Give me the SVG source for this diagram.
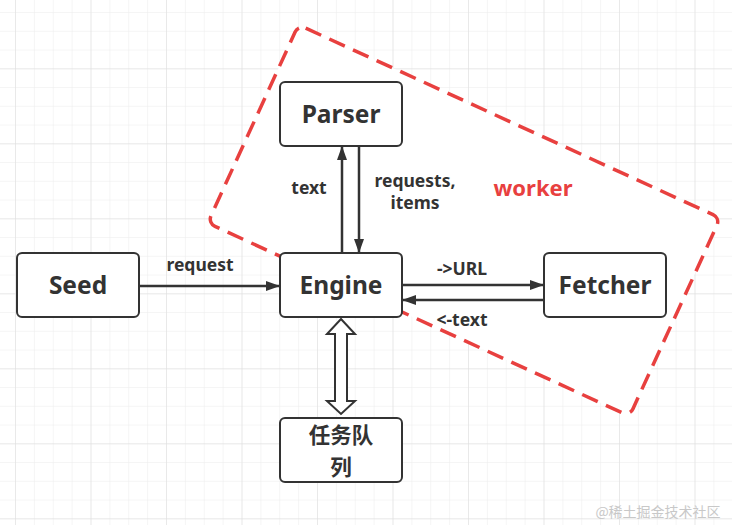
<svg xmlns="http://www.w3.org/2000/svg" width="732" height="525" viewBox="0 0 732 525">
<defs>
<pattern id="minor" patternUnits="userSpaceOnUse" x="15" y="-6.7" width="18.875" height="18.75">
<path d="M0 0H18.875M0 0V18.75" fill="none" stroke="#ececec" stroke-width="1"/>
</pattern>
<pattern id="major" patternUnits="userSpaceOnUse" x="15" y="-6.7" width="75.5" height="75">
<path d="M0 0H75.5M0 0V75" fill="none" stroke="#dedede" stroke-width="1"/>
</pattern>
<marker id="ah" viewBox="0 0 14 10" refX="14" refY="5" markerWidth="14" markerHeight="10" markerUnits="userSpaceOnUse" orient="auto">
<path d="M0 0L14 5L0 10Z" fill="#333"/>
</marker>
</defs>
<style>
.box{fill:#fff;stroke:#333;stroke-width:2}
.nl{font-family:"Noto Sans","Open Sans",sans-serif;font-weight:bold;font-size:24.5px;fill:#333;text-anchor:middle}
.cj{font-family:"Noto Sans CJK SC",sans-serif;font-weight:bold;font-size:21.5px;fill:#333;text-anchor:middle}
.el{font-family:"Noto Sans","Open Sans",sans-serif;font-weight:bold;font-size:17.5px;fill:#333;text-anchor:middle}
.ln{stroke:#333;stroke-width:2.5;fill:none}
</style>
<rect width="732" height="525" fill="#fff"/>
<rect width="732" height="525" fill="url(#minor)"/>
<rect width="732" height="525" fill="url(#major)"/>
<g id="worker">
<rect x="232" y="111.5" width="464" height="218" rx="8" transform="rotate(24.6 464 220.5)" fill="#fff" stroke="#e8403f" stroke-width="3.5" stroke-dasharray="17 9"/>
<text x="533" y="196" font-family="Noto Sans,Open Sans,sans-serif" font-weight="bold" font-size="22" fill="#e8403f" text-anchor="middle">worker</text>
</g>
<g id="connectors">
<line class="ln" x1="139" y1="286" x2="280" y2="286" marker-end="url(#ah)"/>
<text class="el" x="200" y="271">request</text>
<line class="ln" x1="342" y1="253" x2="342" y2="146" marker-end="url(#ah)"/>
<text class="el" x="309" y="194">text</text>
<line class="ln" x1="359" y1="146" x2="359" y2="253" marker-end="url(#ah)"/>
<text class="el" x="415" y="187">requests,</text>
<text class="el" x="415" y="209">items</text>
<line class="ln" x1="402" y1="285" x2="544" y2="285" marker-end="url(#ah)"/>
<text class="el" x="462" y="275">-&gt;URL</text>
<line class="ln" x1="544" y1="300" x2="402" y2="300" marker-end="url(#ah)"/>
<text class="el" x="462" y="326">&lt;-text</text>
<polygon points="341,319 355,334 347,334 347,401 355,401 341,414 327,401 335,401 335,334 327,334" fill="#fff" stroke="#333" stroke-width="2" stroke-linejoin="miter"/>
</g>
<g id="parser">
<rect class="box" x="280" y="82" width="122" height="64" rx="5"/>
<text class="nl" x="341" y="123">Parser</text>
</g>
<g id="seed">
<rect class="box" x="17" y="253" width="122" height="64" rx="5"/>
<text class="nl" x="78" y="294">Seed</text>
</g>
<g id="engine">
<rect class="box" x="280" y="253" width="122" height="64" rx="5"/>
<text class="nl" x="341" y="294">Engine</text>
</g>
<g id="fetcher">
<rect class="box" x="544" y="253" width="122" height="64" rx="5"/>
<text class="nl" x="605" y="294">Fetcher</text>
</g>
<g id="queue">
<rect class="box" x="280" y="418" width="122" height="64" rx="5"/>
<text class="cj" x="341" y="443">任务队</text>
<text class="cj" x="341" y="475">列</text>
</g>
<text x="658" y="517" font-family="Noto Sans CJK SC,sans-serif" font-size="14" fill="#c8c8c8" text-anchor="middle">@稀土掘金技术社区</text>
</svg>
